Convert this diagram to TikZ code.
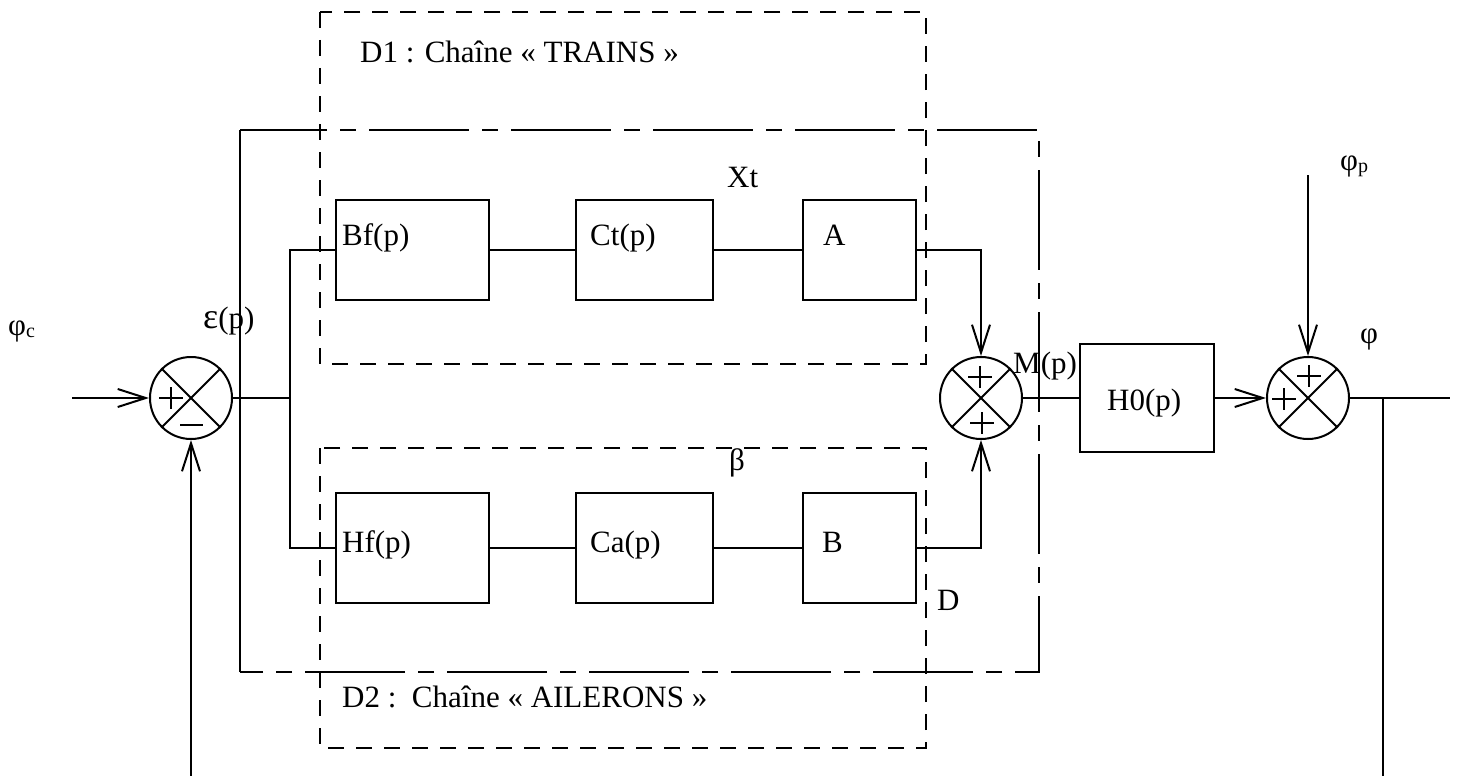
\documentclass[tikz,border=0pt]{standalone}
\usepackage{fontspec}
\setmainfont{Liberation Serif}
\usetikzlibrary{arrows.meta}
\begin{document}
\begin{tikzpicture}[x=1pt,y=-1pt,
  blk/.style={draw, line width=2.2pt, inner sep=0pt},
  sumj/.style={draw, circle, line width=2pt, minimum size=82pt, inner sep=0pt},
  wire/.style={line width=2pt},
  arr/.style={wire, -{Straight Barb[length=28pt,width=18pt]}},
  grp/.style={line width=1.3pt, dash pattern=on 16pt off 12pt},
  grpd/.style={line width=1.3pt, dash pattern=on 100pt off 13pt on 16pt off 13pt, dash phase=13pt},
  lbl/.style={anchor=base west, inner sep=0pt, font=\fontsize{31}{37}\selectfont},
  plussign/.pic={\draw[line width=2pt] (-12,0)--(12,0) (0,-11)--(0,11);}
]
\useasboundingbox (0,0) rectangle (1457,776);

% groups
\draw[grp] (320,12) rectangle (926,364);
\draw[grp] (320,448) rectangle (926,748);
\draw[line width=1.3pt] (240,672) -- (240,130);
\draw[grpd] (240,130) -- (1039,130) -- (1039,672) -- (240,672);

% blocks
\node[blk, minimum width=153pt, minimum height=100pt] (bf) at (412.5,250) {};
\node[blk, minimum width=137pt, minimum height=100pt] (ct) at (644.5,250) {};
\node[blk, minimum width=113pt, minimum height=100pt] (a)  at (859.5,250) {};
\node[blk, minimum width=153pt, minimum height=110pt] (hf) at (412.5,548) {};
\node[blk, minimum width=137pt, minimum height=110pt] (ca) at (644.5,548) {};
\node[blk, minimum width=113pt, minimum height=110pt] (b)  at (859.5,548) {};
\node[blk, minimum width=134pt, minimum height=108pt] (h0) at (1147,398) {};

% summing junctions
\node[sumj] (j1) at (191,398) {};
\node[sumj] (j2) at (981,398) {};
\node[sumj] (j3) at (1308,398) {};
\foreach \j in {j1,j2,j3} {
  \draw[line width=1.8pt] (\j.north west) -- (\j.south east);
  \draw[line width=1.8pt] (\j.north east) -- (\j.south west);
}
\pic at (171,398) {plussign};
\draw[line width=2pt] (180,425) -- (203,425);
\pic at (980,377) {plussign};
\pic at (982,423) {plussign};
\pic at (1309,376) {plussign};
\pic at (1284,399) {plussign};

% connectors
\coordinate (in) at (72,398);
\coordinate (split) at (290,398);
\coordinate (phip) at (1308,175);
\coordinate (out) at (1450,398);
\coordinate (tap) at (1383,398);
\coordinate (fbend) at (1383,776);
\coordinate (fbin) at (191,776);

\draw[arr] (in) -- (j1.west);
\draw[wire] (j1.east) -- (split);
\draw[wire] (bf.west) -| (split);
\draw[wire] (hf.west) -| (split);
\draw[wire] (bf) -- (ct);
\draw[wire] (ct) -- (a);
\draw[wire] (hf) -- (ca);
\draw[wire] (ca) -- (b);
\draw[arr] (a.east) -| (j2.north);
\draw[arr] (b.east) -| (j2.south);
\draw[wire] (j2.east) -- (h0.west);
\draw[arr] (h0.east) -- (j3.west);
\draw[arr] (phip) -- (j3.north);
\draw[wire] (j3.east) -- (out);
\draw[wire] (tap) -- (fbend);
\draw[arr] (fbin) -- (j1.south);

% labels
\node[lbl] (t1) at (360,63) {D1 : Chaîne « TRAINS »};
\node[lbl] (t2) at (342,707) {D2 :\ \ Chaîne « AILERONS »};
\node[lbl] (lbf) at (342,245) {Bf(p)};
\node[lbl] (lct) at (590,245) {Ct(p)};
\node[lbl] (la) at (823,245) {A};
\node[lbl] (lhf) at (342,552) {Hf(p)};
\node[lbl] (lca) at (590,552) {Ca(p)};
\node[lbl] (lb) at (822,552) {B};
\node[lbl] (lxt) at (727,187) {Xt};
\node[lbl] (lbeta) at (729,470) {β};
\node[lbl] (ld) at (937,610) {D};
\node[lbl] (lh0) at (1107,410) {H0(p)};
\node[lbl] (lm) at (1013,373) {M(p)};
\node[lbl] (leps) at (203,328) {{\fontsize{36}{40}\selectfont ε}(p)};
\node[lbl] (lphic) at (8,335) {φ\raisebox{-2pt}{\fontsize{20}{20}\selectfont c}};
\node[lbl] (lphi) at (1360,343) {φ};
\node[lbl] (lphip) at (1340,170) {φ\raisebox{-2pt}{\fontsize{20}{20}\selectfont p}};
\end{tikzpicture}
\end{document}
